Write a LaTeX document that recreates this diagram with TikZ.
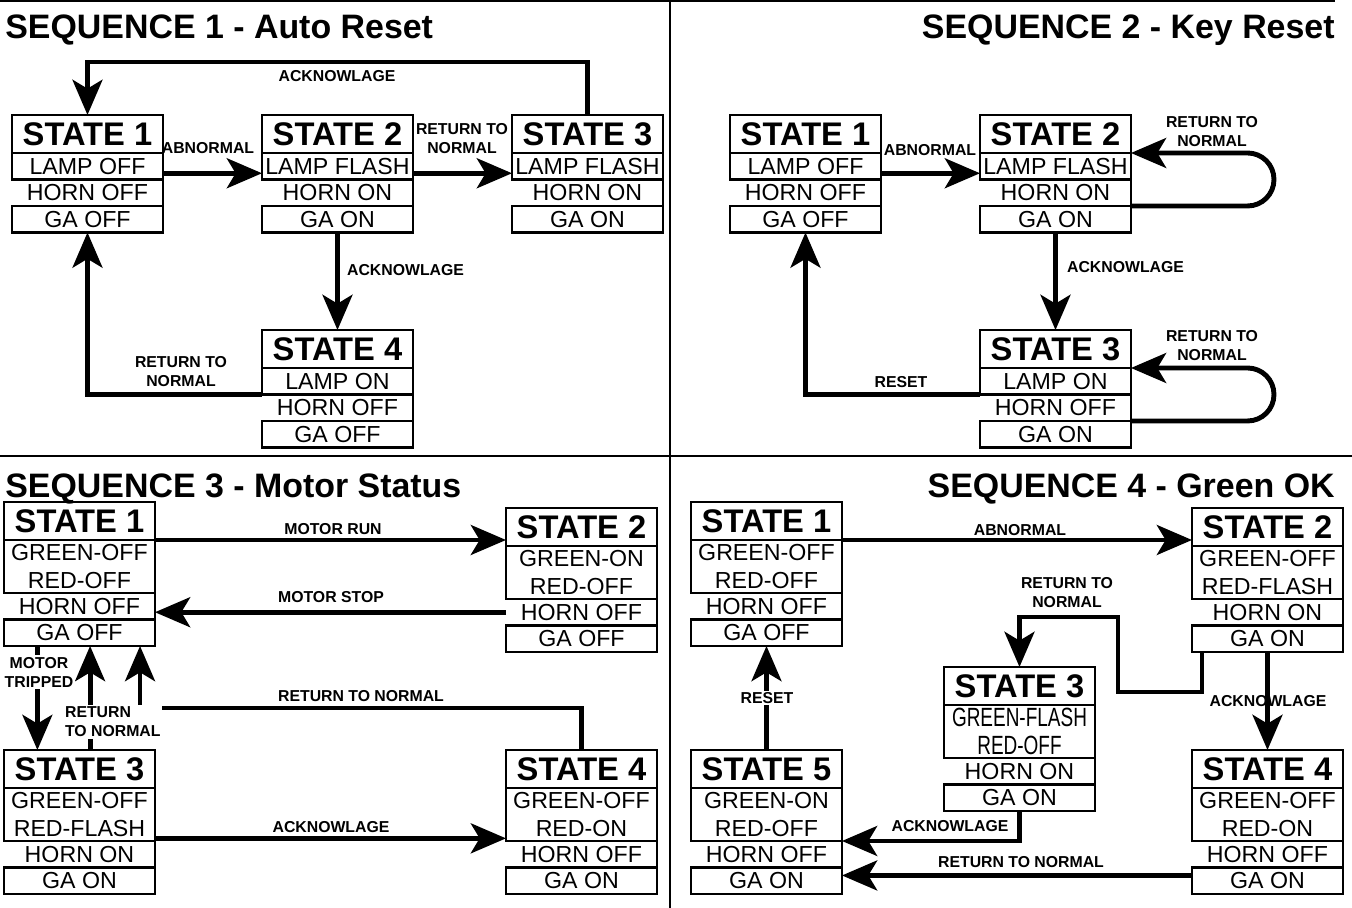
\documentclass[tikz,border=0pt]{standalone}
\usepackage{fontspec}
\setmainfont{Liberation Sans}
\newfontfamily\narrowfam{Liberation Sans}[FakeStretch=0.72]
\usetikzlibrary{arrows.meta,positioning}

\newcommand{\narrowrow}{\fontsize{15}{16.4}\selectfont\narrowfam}
\newcommand{\lampstate}[7]{%
  \node[titlebox] (#1) at (#2,#3) {STATE #4};
  \node[rowbox] (#1l) at (#1.south west) {#5};
  \node[hornrow] (#1h) at (#1l.south west) {#6};
  \draw[line width=1.4pt] (#1h.north east) -- (#1h.south east);
  \node[rowbox] (#1g) at (#1h.south west) {#7};}
\newcommand{\ledstate}[8]{%
  \node[titlebox] (#1) at (#2,#3) {STATE #4};
  \node[duobox] (#1r) at (#1.south west) {#5\\#6};
  \node[hornrow] (#1h) at (#1r.south west) {#7};
  \draw[line width=1.4pt] (#1h.north east) -- (#1h.south east);
  \node[rowbox] (#1g) at (#1h.south west) {#8};}

\tikzset{
  cellbase/.style={draw,line width=1.4pt,anchor=north west,minimum width=3.02cm,inner sep=0pt,outer sep=0pt},
  titlebox/.style={cellbase,minimum height=0.76cm,font=\fontsize{18.6}{20}\selectfont\bfseries,text height=13.3pt,text depth=0pt},
  rowbox/.style={cellbase,minimum height=0.53cm,font=\fontsize{13.2}{16.4}\selectfont,text height=9.4pt,text depth=0pt},
  hornrow/.style={rowbox,draw=none},
  duobox/.style={cellbase,minimum height=1.06cm,font=\fontsize{13.2}{16.4}\selectfont,align=center},
  seqtitle/.style={inner sep=0pt,font=\fontsize{19.3}{22}\selectfont\bfseries,text height=13.8pt,text depth=0pt},
  lbl/.style={inner sep=1pt,font=\fontsize{9}{10.8}\selectfont\bfseries,align=center},
  arr/.style={line width=2.8pt,-{Stealth[length=20pt,width=17pt,inset=5pt]}},
  frame/.style={line width=1.3pt}
}

\begin{document}
\begin{tikzpicture}[x=0.02cm,y=-0.02cm]
  \useasboundingbox (0,0) rectangle (1352,908);
  % frame
  \draw[frame] (0,1) -- (1335,1);
  \draw[frame] (670,0) -- (670,908);
  \draw[frame] (0,456) -- (1352,456);
  \node[seqtitle,anchor=west] (s1) at (5,26) {SEQUENCE 1 - Auto Reset};
  \node[seqtitle,anchor=east] (s2) at (1335,26) {SEQUENCE 2 - Key Reset};
  \node[seqtitle,anchor=west] (s3) at (5,485) {SEQUENCE 3 - Motor Status};
  \node[seqtitle,anchor=east] (s4) at (1335,485) {SEQUENCE 4 - Green OK};

  % sequence 1
  \lampstate{a1}{12}{115}{1}{LAMP OFF}{HORN OFF}{GA OFF}
  \lampstate{a2}{262}{115}{2}{LAMP FLASH}{HORN ON}{GA ON}
  \lampstate{a3}{512}{115}{3}{LAMP FLASH}{HORN ON}{GA ON}
  \lampstate{a4}{262}{330}{4}{LAMP ON}{HORN OFF}{GA OFF}
  \draw[arr] (a3.north) -- ++(0,-53) -| (a1.north);
  \draw[arr] ([yshift=-4pt]a1l.east) -- ([yshift=-4pt]a2l.west);
  \draw[arr] ([yshift=-4pt]a2l.east) -- ([yshift=-4pt]a3l.west);
  \draw[arr] (a2g.south) -- (a4.north);
  \draw[arr] (a4l.south west) -| (a1g.south);
  \node[lbl] (t1) at (337,76) {ACKNOWLAGE};
  \node[lbl] (t2) at (208,148) {ABNORMAL};
  \node[lbl] (t3) at (462,139) {RETURN TO\\NORMAL};
  \node[lbl,anchor=west] (t4) at (345,270) {ACKNOWLAGE};
  \node[lbl] (t5) at (181,372) {RETURN TO\\NORMAL};

  % sequence 2
  \lampstate{k1}{730}{115}{1}{LAMP OFF}{HORN OFF}{GA OFF}
  \lampstate{k2}{980}{115}{2}{LAMP FLASH}{HORN ON}{GA ON}
  \lampstate{k3}{980}{330}{3}{LAMP ON}{HORN OFF}{GA ON}
  \draw[arr] ([yshift=-4pt]k1l.east) -- ([yshift=-4pt]k2l.west);
  \draw[arr] (k2g.south) -- (k3.north);
  \draw[arr] (k3l.south west) -| (k1g.south);
  \draw[arr,rounded corners=15pt] (k2h.south east) -- ++(143,0) |- (k2.south east);
  \draw[arr,rounded corners=15pt] (k3h.south east) -- ++(143,0) |- (k3.south east);
  \node[lbl] (u1) at (930,150) {ABNORMAL};
  \node[lbl,anchor=west] (u2) at (1065,267) {ACKNOWLAGE};
  \node[lbl] (u3) at (901,382) {RESET};
  \node[lbl] (u4) at (1212,132) {RETURN TO\\NORMAL};
  \node[lbl] (u5) at (1212,346) {RETURN TO\\NORMAL};

  % sequence 3
  \ledstate{m1}{4}{502}{1}{GREEN-OFF}{RED-OFF}{HORN OFF}{GA OFF}
  \ledstate{m2}{506}{508}{2}{GREEN-ON}{RED-OFF}{HORN OFF}{GA OFF}
  \ledstate{m3}{4}{750}{3}{GREEN-OFF}{RED-FLASH}{HORN ON}{GA ON}
  \ledstate{m4}{506}{750}{4}{GREEN-OFF}{RED-ON}{HORN OFF}{GA ON}
  \draw[arr] (m1.south east) -- (m2.west |- m1.south east);
  \draw[arr] (m2h.west) -- (m2h.west -| m1h.east);
  \draw[arr] ([xshift=19pt]m1g.south west) -- ([xshift=19pt]m3.north west);
  \draw[arr] ([xshift=49pt]m3.north west) -- ([xshift=49pt]m1g.south west);
  \draw[arr] (m4.north) -- ++(0,-42) -| ([xshift=-8.5pt]m1g.south east);
  \draw[arr] ([yshift=1.5pt]m3r.south east) -- ([yshift=1.5pt]m4r.south west);
  \node[lbl] (v1) at (333,529) {MOTOR RUN};
  \node[lbl] (v2) at (331,597) {MOTOR STOP};
  \node[lbl,fill=white] (v3) at (39,672) {MOTOR\\TRIPPED};
  \node[lbl,fill=white,anchor=west,align=left] (v4) at (63,722) {RETURN\\TO NORMAL};
  \node[lbl] (v5) at (361,696) {RETURN TO NORMAL};
  \node[lbl] (v6) at (331,827) {ACKNOWLAGE};

  % sequence 4
  \ledstate{g1}{691}{502}{1}{GREEN-OFF}{RED-OFF}{HORN OFF}{GA OFF}
  \ledstate{g2}{1192}{508}{2}{GREEN-OFF}{RED-FLASH}{HORN ON}{GA ON}
  \ledstate{g3}{944}{667}{3}{\narrowrow GREEN-FLASH}{\narrowrow RED-OFF}{HORN ON}{GA ON}
  \ledstate{g4}{1192}{750}{4}{GREEN-OFF}{RED-ON}{HORN OFF}{GA ON}
  \ledstate{g5}{691}{750}{5}{GREEN-ON}{RED-OFF}{HORN OFF}{GA ON}
  \draw[arr] (g1.south east) -- (g2.west |- g1.south east);
  \draw[arr] ([xshift=5.7pt]g2g.south west) -- ++(0,40) -- ++(-84,0) -- ++(0,-75) -| (g3.north);
  \draw[arr] (g2g.south) -- (g4.north);
  \draw[arr] (g3g.south) |- (g5r.south east);
  \draw[arr] ([yshift=3pt]g4g.west) -- ([yshift=3pt]g5g.east);
  \draw[arr] (g5.north) -- (g1g.south);
  \node[lbl] (w1) at (1020,530) {ABNORMAL};
  \node[lbl] (w2) at (1067,593) {RETURN TO\\NORMAL};
  \node[lbl] (w3) at (1268,701) {ACKNOWLAGE};
  \node[lbl] (w4) at (950,826) {ACKNOWLAGE};
  \node[lbl] (w5) at (1021,862) {RETURN TO NORMAL};
  \node[lbl,fill=white] (w6) at (767,698) {RESET};
\end{tikzpicture}
\end{document}
